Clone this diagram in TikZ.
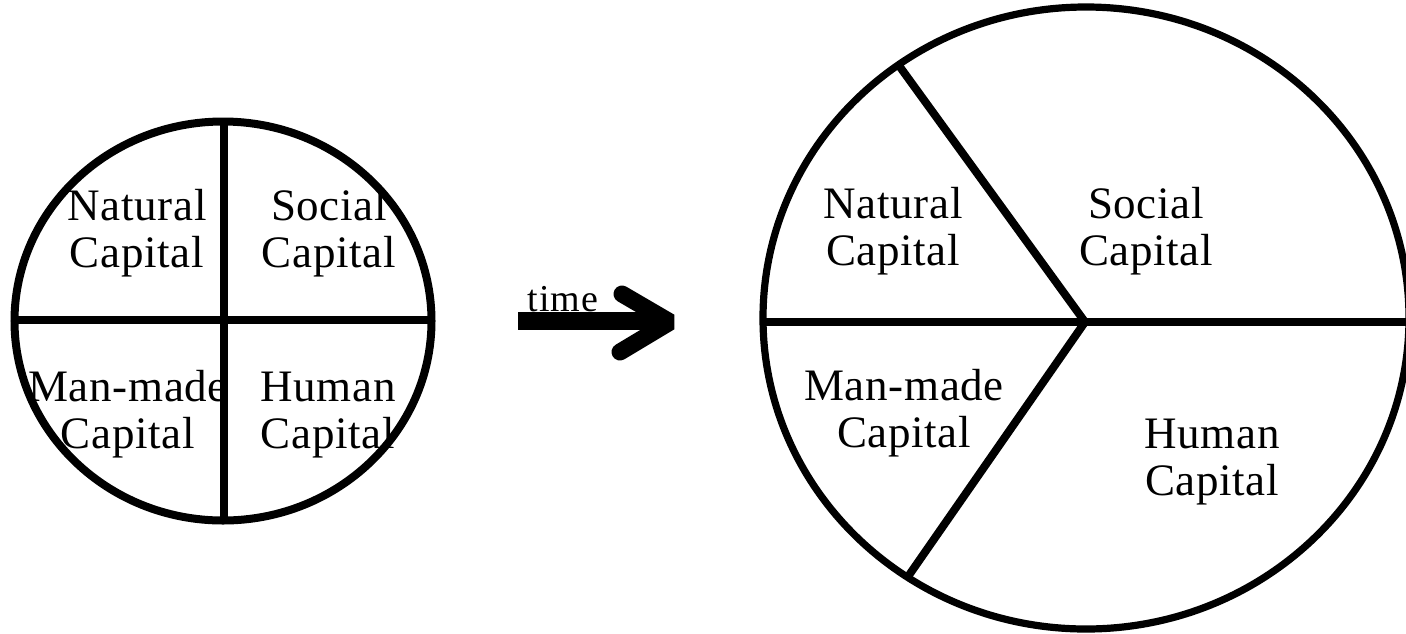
\documentclass[tikz,border=0pt]{standalone}
\usepackage{fontspec}
\setmainfont{Liberation Serif}
\newfontfamily\labelfont[LetterSpace=1.5]{Liberation Serif}
\newfontfamily\timefont[LetterSpace=3]{Liberation Serif}
\begin{document}
\begin{tikzpicture}[x=0.5pt,y=-0.5pt,
  lbl/.style={font=\labelfont\fontsize{22.5pt}{23.5pt}\selectfont, align=center, inner sep=0pt, anchor=base},
  rimA/.style={line width=4pt},
  rimB/.style={line width=3.6pt},
  divider/.style={line width=4pt},
  arrowbar/.style={line width=9pt},
  arrowhead/.style={line width=8.5pt, line cap=round, line join=bevel}]
\useasboundingbox (0,0) rectangle (1406,633);
\clip (0,0) rectangle (1406,633);
% left circle
\coordinate (lc) at (223,321);
\draw[rimA] (lc) ellipse [x radius=104.25pt, y radius=99.75pt];
\coordinate (lt) at (224,122);
\coordinate (lb) at (224,521);
\coordinate (ll) at (14,320);
\coordinate (lr) at (432,320);
\draw[divider] (lt) -- (lb);
\draw[divider] (ll) -- (lr);
% right ellipse
\coordinate (rc) at (1086,318);
\draw[rimB] (rc) ellipse [x radius=161.5pt, y radius=155.5pt];
\coordinate (hub) at (1085,322);
\coordinate (rl) at (763,322);
\coordinate (rr) at (1420,322);
\coordinate (rtop) at (900,67);
\coordinate (rbot) at (907,578);
\draw[divider] (rl) -- (rr);
\draw[divider] (hub) -- (rtop);
\draw[divider] (hub) -- (rbot);
% labels left
\node[lbl] (nat1) at (137,267) {Natural\\Capital};
\node[lbl] (soc1) at (329,267) {Social\\Capital};
\node[lbl] (man1) at (128,448) {Man-made\\Capital};
\node[lbl] (hum1) at (328,448) {Human\\Capital};
% labels right
\node[lbl] (nat2) at (893,265) {Natural\\Capital};
\node[lbl] (soc2) at (1146,265) {Social\\Capital};
\node[lbl] (man2) at (904,447) {Man-made\\Capital};
\node[lbl] (hum2) at (1212,495) {Human\\Capital};
% time arrow
\coordinate (atail) at (518,321);
\coordinate (abar) at (662,321);
\coordinate (aup) at (622,294);
\coordinate (atip) at (670,322);
\coordinate (alow) at (620,352);
\draw[arrowbar] (atail) -- (abar);
\draw[arrowhead] (aup) -- (atip) -- (alow);
\node[font=\timefont\fontsize{19pt}{19pt}\selectfont, anchor=base west, inner sep=0pt] (time) at (527,311) {time};
\end{tikzpicture}
\end{document}
